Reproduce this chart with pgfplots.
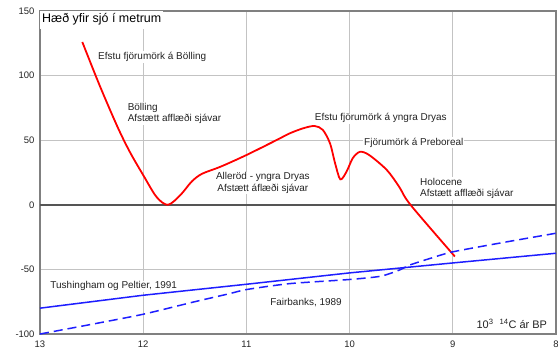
\documentclass[border=0pt]{standalone}
\usepackage{fontspec}
\setmainfont{Liberation Sans}
\usepackage{pgfplots}
\pgfplotsset{compat=1.18}
\definecolor{gridgray}{RGB}{195,195,195}
\definecolor{framegray}{RGB}{128,128,128}
\definecolor{zerogray}{RGB}{85,85,85}
\definecolor{txt}{RGB}{35,35,35}
\definecolor{myblue}{RGB}{30,30,255}
\begin{document}
\begin{tikzpicture}
\begin{axis}[
  scale only axis, width=516bp, height=323bp,
  x dir=reverse, xmin=8, xmax=13, ymin=-100, ymax=150,
  xtick={8,9,10,11,12,13}, ytick={-100,-50,0,50,100,150},
  grid=major, grid style={gridgray, line width=0.8bp},
  axis line style={framegray, line width=1.2bp},
  major tick length=0pt,
  tick label style={font=\fontsize{9.5}{11}\selectfont, text=txt},
  /pgf/number format/assume math mode=true,
  xticklabel style={yshift=-3bp},
  yticklabel style={xshift=-2bp},
  clip=false,
  every node/.append style={text=txt},
]
\draw[zerogray, line width=1.5bp] (axis cs:13,0) -- (axis cs:8,0);
\node[anchor=north west, fill=white, inner sep=2bp, font=\fontsize{12.5}{14}\selectfont] at (rel axis cs:0,1) {\strut Hæð yfir sjó í metrum};
\begin{scope}[every node/.style={fill=white, inner sep=1bp, font=\fontsize{10}{11.5}\selectfont, text=txt}]
\node[anchor=west] at (axis cs:12.448,114.5) {Efstu fjörumörk á Bölling};
\node[anchor=west, align=left] at (axis cs:12.161,70.7) {Bölling\\Afstætt afflæði sjávar};
\node[align=center] at (axis cs:10.841,16.8) {Alleröd - yngra Dryas\\Afstætt áflæði sjávar};
\node[anchor=west] at (axis cs:10.348,67) {Efstu fjörumörk á yngra Dryas};
\node[anchor=west] at (axis cs:9.870,48.1) {Fjörumörk á Preboreal};
\node[anchor=west, align=left] at (axis cs:9.328,12.6) {Holocene\\Afstætt afflæði sjávar};
\node[anchor=west] at (axis cs:12.91,-63) {Tushingham og Peltier, 1991};
\node[anchor=west] at (axis cs:10.78,-76) {Fairbanks, 1989};
\node[anchor=east, font=\fontsize{11}{13}\selectfont] at (axis cs:8.075,-92.5) {10\textsuperscript{3}\ \ \textsuperscript{14}C ár BP};
\end{scope}
\addplot[red, line width=1.8bp, smooth, tension=0.5] coordinates {
(12.59,126) (12.42,92) (12.25,60.5) (12.13,41) (12.0,23) (11.87,6) (11.76,0)
(11.64,7.5) (11.53,18) (11.43,24) (11.25,29.5) (11.0,38.5) (10.71,50) (10.58,55.3)
(10.45,59.2) (10.34,61) (10.26,58) (10.19,47.6) (10.14,32) (10.09,19.7) (10.03,25.6)
(9.97,36) (9.90,41) (9.81,38.5) (9.64,27) (9.52,14) (9.41,0) (8.98,-40)
};
\addplot[myblue, line width=1.5bp] coordinates {
(13,-80) (12,-70) (11,-61.5) (10,-52.7) (9,-45) (8,-37.5)
};
\addplot[myblue, line width=1.5bp, dash pattern=on 9bp off 5bp, smooth, tension=0.4] coordinates {
(13,-100) (12.5,-92.5) (12,-84.7) (11.5,-75) (11.16,-68.7) (11,-65.6) (10.58,-61)
(10,-57.8) (9.7,-55.3) (9.52,-50.6) (9.42,-46.7) (9.22,-41.5) (9,-36.4) (8.5,-29) (8,-22)
};
\coordinate (BL) at (rel axis cs:0,0);
\coordinate (TR) at (rel axis cs:1,1);
\end{axis}
\pgfresetboundingbox
\path ([shift={(-40bp,-22bp)}]BL) rectangle ([shift={(2bp,11bp)}]TR);
\end{tikzpicture}
\end{document}
